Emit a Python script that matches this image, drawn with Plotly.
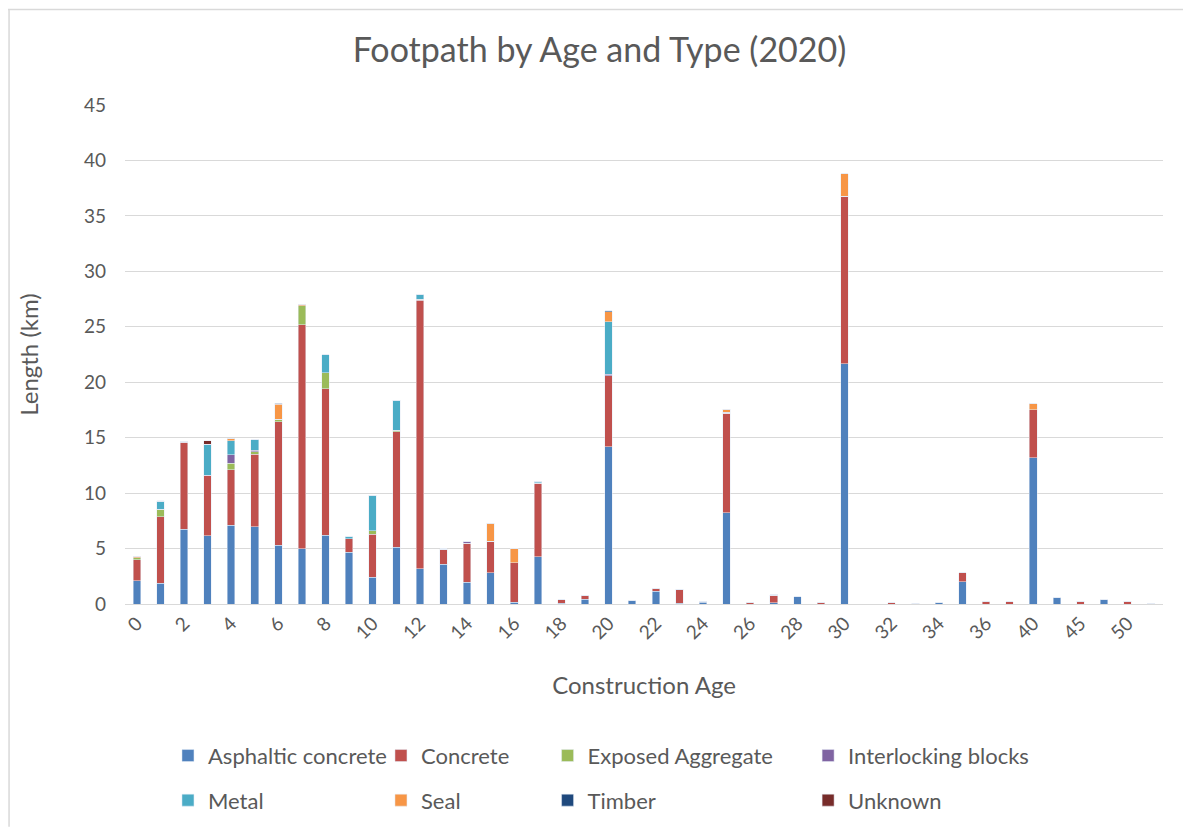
import plotly.graph_objects as go

# construction age categories (only every other one is labelled on the axis)
ages = [str(i) for i in range(38)] + ['40', '42', '45', '48', '50', '60']

asphaltic = [2.1, 1.85, 6.75, 6.15, 7.1, 6.95, 5.3, 5.0, 6.2, 4.65,
             2.4, 5.1, 3.2, 3.6, 1.95, 2.8, 0.15, 4.25, 0.05, 0.45,
             14.2, 0.3, 1.15, 0.05, 0.15, 8.25, 0, 0.1, 0.65, 0,
             21.65, 0, 0, 0, 0.1, 2.0, 0, 0, 13.2, 0.55, 0, 0.4, 0, 0.08]
concrete = [1.9, 6.0, 7.85, 5.4, 5.0, 6.55, 11.15, 20.2, 13.2, 1.25,
            3.9, 10.45, 24.2, 1.35, 3.55, 2.85, 3.55, 6.65, 0.35, 0.35,
            6.4, 0.05, 0.25, 1.3, 0.05, 8.95, 0.15, 0.7, 0, 0.15,
            15.1, 0, 0.1, 0.05, 0, 0.8, 0.25, 0.2, 4.3, 0, 0.25, 0, 0.2, 0]
exposed = [0.15, 0.7, 0, 0, 0.6, 0.25, 0.2, 1.7, 1.45, 0,
           0.3, 0.12, 0.1, 0, 0, 0, 0, 0, 0, 0,
           0, 0, 0, 0, 0, 0, 0, 0, 0, 0,
           0, 0, 0, 0, 0, 0, 0, 0, 0, 0, 0, 0, 0, 0]
interlocking = [0, 0, 0.05, 0.05, 0.77, 0.1, 0, 0, 0, 0,
                0, 0, 0, 0, 0.15, 0, 0, 0.05, 0, 0,
                0.1, 0, 0, 0, 0.07, 0.1, 0, 0, 0, 0,
                0, 0, 0, 0, 0, 0, 0, 0, 0, 0, 0, 0, 0, 0]
metal = [0, 0.7, 0, 2.8, 1.25, 0.97, 0, 0, 1.65, 0.15,
         3.2, 2.7, 0.45, 0, 0.03, 0, 0, 0.1, 0, 0,
         4.75, 0, 0, 0, 0, 0, 0, 0.05, 0, 0,
         0, 0, 0, 0, 0, 0, 0, 0, 0, 0, 0, 0, 0, 0]
seal = [0.15, 0, 0, 0, 0.2, 0, 1.35, 0.15, 0, 0,
        0, 0, 0, 0.05, 0, 1.65, 1.35, 0, 0, 0,
        0.9, 0, 0, 0, 0, 0.25, 0, 0, 0, 0,
        2.05, 0, 0, 0, 0, 0, 0, 0, 0.55, 0, 0, 0, 0.05, 0]
timber = [0, 0, 0, 0, 0, 0, 0.12, 0, 0, 0,
          0, 0, 0, 0, 0, 0, 0, 0, 0, 0,
          0.1, 0, 0, 0, 0, 0, 0, 0, 0, 0,
          0, 0, 0, 0, 0, 0, 0, 0, 0, 0, 0, 0, 0, 0]
unknown = [0, 0.05, 0, 0.3, 0, 0, 0, 0, 0, 0,
           0, 0, 0, 0, 0, 0, 0, 0, 0, 0,
           0, 0, 0, 0, 0, 0, 0, 0, 0, 0,
           0, 0, 0, 0, 0, 0, 0, 0, 0, 0, 0, 0, 0, 0]

# name, values, colour, which legend column
series = [
    ('Asphaltic concrete', asphaltic, '#4F81BD', 'legend'),
    ('Concrete', concrete, '#C0504D', 'legend2'),
    ('Exposed Aggregate', exposed, '#9BBB59', 'legend3'),
    ('Interlocking blocks', interlocking, '#8064A2', 'legend4'),
    ('Metal', metal, '#4BACC6', 'legend'),
    ('Seal', seal, '#F79646', 'legend2'),
    ('Timber', timber, '#1F497D', 'legend3'),
    ('Unknown', unknown, '#772C2A', 'legend4'),
]

fig = go.Figure()
for name, vals, col, leg in series:
    fig.add_trace(go.Bar(x=ages, y=vals, name=name, marker_color=col,
                         legend=leg, legendgroup=name))

font = 'Lato, Noto Sans, sans-serif'
grey = '#595959'

leg_style = dict(orientation='v', yanchor='top', y=-0.262, xanchor='left',
                 tracegroupgap=13, bgcolor='rgba(0,0,0,0)',
                 font=dict(family=font, size=22, color=grey))

# the page body adds 8px, so the figure is a bit smaller than the window
fig.update_layout(
    barmode='stack',
    bargap=0.68,
    width=1183, height=826,
    margin=dict(l=117, r=28, t=97, b=222),
    paper_bgcolor='white', plot_bgcolor='white',
    font=dict(family=font, color=grey),
    title=dict(text='Footpath by Age and Type (2020)', x=0.5, xanchor='center',
               y=0.949, yanchor='middle', font=dict(size=34, color=grey)),
    xaxis=dict(type='category', tickmode='array', tickvals=ages[::2], ticktext=ages[::2],
               tickangle=-45, tickfont=dict(size=19, color=grey),
               showline=True, linecolor='#D9D9D9', linewidth=1, ticks='',
               title=dict(text='Construction Age', font=dict(size=24, color=grey), standoff=34)),
    yaxis=dict(range=[0, 45], dtick=5, gridcolor='#D9D9D9', gridwidth=1,
               zeroline=False, tickfont=dict(size=19, color=grey), ticks='',
               ticklabelstandoff=18,
               title=dict(text='Length (km)', font=dict(size=24, color=grey), standoff=38)),
    legend=dict(leg_style, x=0.0414),
    legend2=dict(leg_style, x=0.2466),
    legend3=dict(leg_style, x=0.4071),
    legend4=dict(leg_style, x=0.6581),
    shapes=[
        dict(type='line', xref='paper', yref='paper', x0=-0.1117, x1=-0.1117,
             y0=-0.4464, y1=1.1925, line=dict(color='#D9D9D9', width=1.5)),
        dict(type='line', xref='paper', yref='paper', x0=-0.1127, x1=1.03,
             y0=1.1915, y1=1.1915, line=dict(color='#D9D9D9', width=1.5)),
    ],
)

fig.write_html('out.html')
